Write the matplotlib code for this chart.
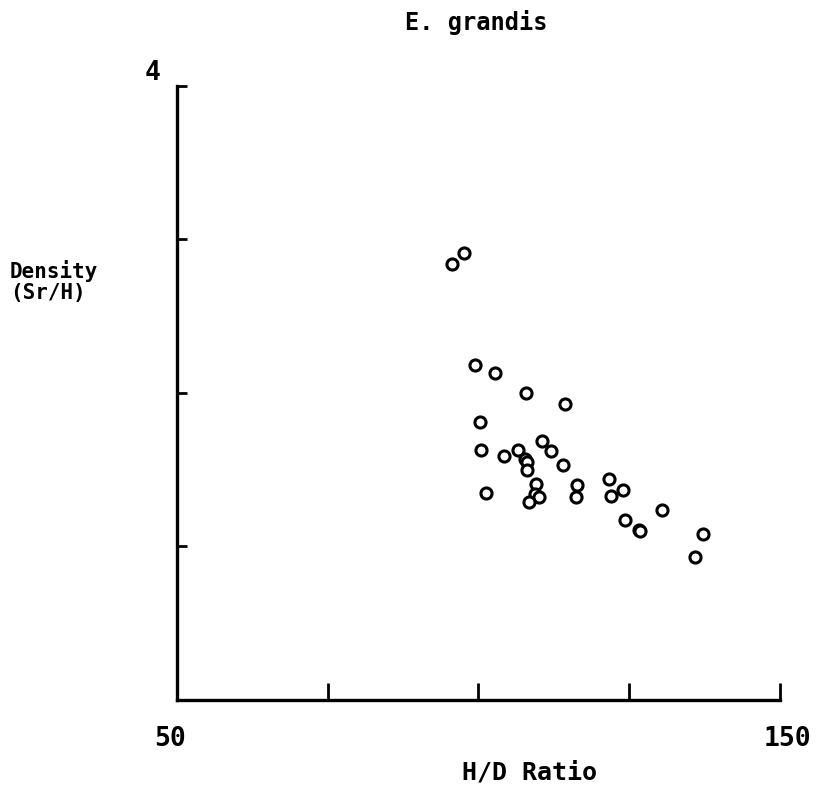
import matplotlib
matplotlib.use("Agg")
import matplotlib.pyplot as plt

# H/D ratio vs density
hd_ratio = [95.6, 97.6, 99.5, 102.8, 107.9, 114.4, 100.2, 100.5, 104.3, 106.6,
            107.7, 108.0, 108.1, 110.5, 112.1, 114.1, 101.2, 109.5, 109.4, 110.1,
            108.4, 116.3, 116.1, 121.6, 122.0, 124.0, 124.3, 126.6, 126.8, 130.4,
            137.3, 136.0]
density = [2.84, 2.91, 2.18, 2.13, 2.00, 1.93, 1.81, 1.63, 1.59, 1.63,
           1.57, 1.55, 1.50, 1.69, 1.62, 1.53, 1.35, 1.41, 1.34, 1.32,
           1.29, 1.40, 1.32, 1.44, 1.33, 1.37, 1.17, 1.11, 1.10, 1.24,
           1.08, 0.93]

x_ticks = [75, 100, 125, 150]
y_ticks = [1, 2, 3, 4]

fnt = "DejaVu Sans Mono"

fig = plt.figure(figsize=(8.18, 7.94), dpi=100)
ax = fig.add_axes([0.2164, 0.1184, 0.737, 0.7733])

ax.plot(hd_ratio, density, 'o', markersize=8, markerfacecolor='white',
        markeredgecolor='black', markeredgewidth=2.2, linestyle='none')

ax.set_xlim(50, 150)
ax.set_ylim(0, 4)
for s in ['top', 'right']:
    ax.spines[s].set_visible(False)
for s in ['left', 'bottom']:
    ax.spines[s].set_linewidth(2.4)

ax.set_xticks(x_ticks)
ax.set_yticks(y_ticks)
ax.set_xticklabels([])
ax.set_yticklabels([])
ax.tick_params(axis='x', direction='in', length=12, width=2)
ax.tick_params(axis='y', direction='in', length=7, width=2)

xt = ax.get_xaxis_transform()
yt = ax.get_yaxis_transform()
ax.text(48.8, -0.064, '50', transform=xt, ha='center', va='center',
        fontsize=19, fontweight='bold', family=fnt)
ax.text(151.3, -0.064, '150', transform=xt, ha='center', va='center',
        fontsize=19, fontweight='bold', family=fnt)
ax.text(-0.04, 4.0, '4', transform=yt, ha='center', va='bottom',
        fontsize=19, fontweight='bold', family=fnt)

ax.text(0.585, -0.118, 'H/D Ratio', transform=ax.transAxes, ha='center', va='center',
        fontsize=18, fontweight='bold', family=fnt)
fig.text(0.012, 0.645, 'Density\n(Sr/H)', ha='left', va='center',
         fontsize=15, fontweight='bold', family=fnt, linespacing=1.05)
fig.text(0.582, 0.972, 'E. grandis', ha='center', va='center',
         fontsize=17, fontweight='bold', family=fnt)

fig.savefig('out.png', dpi=100)
